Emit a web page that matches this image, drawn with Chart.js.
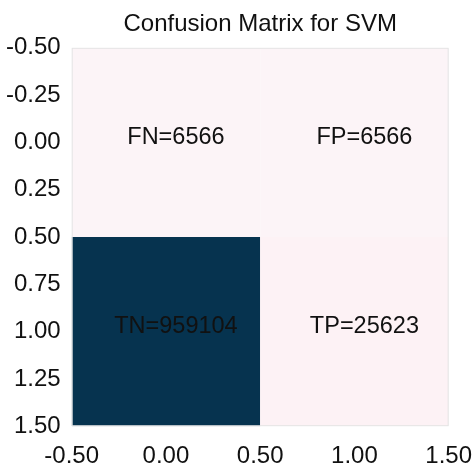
<!DOCTYPE html>
<html>
<head>
<meta charset="utf-8">
<script src="https://cdn.jsdelivr.net/npm/chart.js@4/dist/chart.umd.min.js"></script>
<style>
  html, body { margin: 0; padding: 0; background: #ffffff; }
  #wrap { width: 472px; height: 471px; }
</style>
</head>
<body>
<div id="wrap"><canvas id="c"></canvas></div>
<script>
// ---- data ----
const titleText = 'Confusion Matrix for SVM';
const cellCols = [0, 1, 0, 1];          // column index of each cell
const cellRows = [0, 0, 1, 1];          // row index of each cell
const cellNames = ['FN', 'FP', 'TN', 'TP'];
const cellValues = [6566, 6566, 959104, 25623];
const xTickValues = [-0.5, 0, 0.5, 1, 1.5];
const yTickValues = [-0.5, -0.25, 0, 0.25, 0.5, 0.75, 1, 1.25, 1.5];

const cellColors = ['#fcf4f7', '#fcf4f7', '#06334f', '#fdf2f5'];
const FONT = "'Liberation Sans', Arial, Helvetica, sans-serif";

const points = cellCols.map((c, i) => ({ x: c, y: [cellRows[i] - 0.5, cellRows[i] + 0.5] }));

const labelPlugin = {
  id: 'cellLabels',
  afterDatasetsDraw(chart) {
    const ctx = chart.ctx;
    const meta = chart.getDatasetMeta(0);
    ctx.save();
    ctx.font = '23.5px ' + FONT;
    ctx.fillStyle = '#111111';
    ctx.textAlign = 'center';
    ctx.textBaseline = 'middle';
    meta.data.forEach((el, i) => {
      const p = el.getCenterPoint();
      ctx.fillText(cellNames[i] + '=' + cellValues[i], p.x + 10, p.y - 5);
    });
    ctx.restore();
  }
};

const framePlugin = {
  id: 'frame',
  afterDatasetsDraw(chart) {
    const a = chart.chartArea;
    const ctx = chart.ctx;
    ctx.save();
    ctx.strokeStyle = '#e4e4e4';
    ctx.lineWidth = 1;
    ctx.strokeRect(a.left + 0.5, a.top + 0.5, a.right - a.left - 1, a.bottom - a.top - 1);
    ctx.restore();
  }
};

new Chart(document.getElementById('c'), {
  type: 'bar',
  data: {
    datasets: [{
      data: points,
      backgroundColor: cellColors,
      borderWidth: 0,
      borderSkipped: false,
      categoryPercentage: 1,
      barPercentage: 2
    }]
  },
  options: {
    responsive: true,
    maintainAspectRatio: false,
    animation: false,
    layout: { padding: { left: -5, right: 0, top: 0, bottom: -16 } },
    plugins: {
      legend: { display: false },
      tooltip: { enabled: false },
      title: {
        display: true,
        text: titleText,
        fullSize: false,
        color: '#111111',
        font: { family: FONT, size: 24, weight: 'normal' },
        padding: { top: 10, bottom: 9 }
      }
    },
    scales: {
      x: {
        type: 'linear',
        min: -0.5,
        max: 1.5,
        offset: false,
        afterBuildTicks: s => { s.ticks = xTickValues.map(v => ({ value: v })); },
        afterFit: s => { s.paddingRight = Math.max(s.paddingRight - s.options.ticks.padding, 0); },
        grid: { display: false, drawTicks: false, offset: false },
        border: { display: false },
        ticks: {
          padding: 16,
          color: '#111111',
          font: { family: FONT, size: 24 },
          maxRotation: 0,
          callback: v => Number(v).toFixed(2)
        }
      },
      y: {
        type: 'linear',
        reverse: true,
        min: -0.5,
        max: 1.5,
        afterBuildTicks: s => { s.ticks = yTickValues.map(v => ({ value: v })); },
        grid: { display: false, drawTicks: false },
        border: { display: false },
        ticks: {
          padding: 11,
          color: '#111111',
          font: { family: FONT, size: 24 },
          callback: v => Number(v).toFixed(2)
        }
      }
    }
  },
  plugins: [labelPlugin, framePlugin]
});
</script>
</body>
</html>
